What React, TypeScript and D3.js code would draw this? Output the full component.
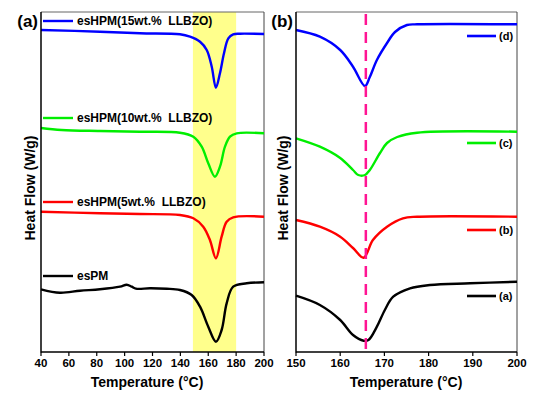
import React from "react";
import * as d3 from "d3";

// ---------- Panel (a) data: temperature (°C) vs heat flow (arbitrary offset units) ----------
const aTemps15 = [40, 82.3, 111, 139.7, 146.9, 154.1, 158.9, 162.5, 165.5, 168.4, 171.3, 174.4, 177.9, 182.8, 200];
const aVals15 = [322, 320.3, 318.7, 317.7, 315.3, 310.3, 302, 285.3, 264.3, 278.7, 298.7, 313.7, 317.7, 318.3, 318];

const aTemps10 = [40, 54.8, 82.3, 111, 139.7, 149.3, 155.3, 160, 164.8, 168.4, 172, 175.6, 180.4, 200];
const aVals10 = [224, 222, 221, 220.3, 219.3, 215.3, 205.3, 188.7, 175.3, 185.3, 205.3, 215.3, 218.7, 218.7];

const aTemps5 = [40, 82.3, 111, 139.7, 149.3, 156.4, 161.2, 165.5, 169.6, 173.2, 177.9, 200];
const aVals5 = [140.3, 138.7, 138, 137, 133.7, 125.3, 112, 93.7, 115.3, 130.3, 134.7, 135.3];

const aTempsPM = [40, 53.6, 68, 82.3, 96.7, 101.5, 105.1, 108.1, 118.2, 130.2, 139.7, 148.1, 154.1, 160, 165.5, 169.6, 173.2, 177.9, 187.6, 200];
const aValsPM = [62.7, 59.3, 61.3, 62.7, 65.3, 67.3, 65.3, 63.3, 63.7, 63.3, 62, 57, 45.3, 25.3, 10.3, 22, 48.7, 65.3, 68.7, 69.7];

// ---------- Panel (b) data ----------
const bTempsD = [150, 155.4, 160, 162.9, 165.6, 166.7, 168.3, 170.6, 172.4, 175.1, 177.4, 200];
const bValsD = [322, 315.3, 302, 285.3, 266, 275, 292, 309, 320, 327, 327.7, 327.7];

const bTempsC = [150, 155.4, 160, 162.9, 164.1, 165.6, 166.7, 169, 170.6, 172.9, 177.4, 200];
const bValsC = [213.7, 205.3, 194, 182, 177, 177, 182, 199, 209, 215, 219.3, 220.3];

const bTempsB = [150, 155.4, 160, 162.9, 165.3, 167.4, 170.6, 174.2, 177.4, 200];
const bValsB = [132, 125.3, 115.3, 104, 94.3, 112, 125.3, 133.7, 135.3, 135.3];

const bTempsA = [150, 155.4, 160, 162.9, 165.3, 166.4, 168.3, 170.1, 172, 175.8, 180.3, 189.4, 200];
const bValsA = [56.3, 47, 32, 17, 11.3, 12, 25.3, 42, 55.3, 63.7, 67, 68.7, 70.3];

const aLegend = ["esHPM(15wt.%  LLBZO)", "esHPM(10wt.%  LLBZO)", "esHPM(5wt.%  LLBZO)", "esPM"];
const bLegend = ["(d)", "(c)", "(b)", "(a)"];
const colors = ["#0000ff", "#00ee00", "#ff0000", "#000000"];

const aTicks = [40, 60, 80, 100, 120, 140, 160, 180, 200];
const bTicks = [150, 160, 170, 180, 190, 200];
const bandRange = [149, 180];
const peakTemp = 165.8;

const FONT = "'Liberation Sans', Arial, sans-serif";

type Series = { t: number[]; v: number[] };

function Panel(props: {
  left: number; right: number; top: number; bottom: number;
  domain: [number, number]; ticks: number[]; series: Series[];
  label: string; titleX: number; ylabelX: number;
  children?: (x: d3.ScaleLinear<number, number>, y: d3.ScaleLinear<number, number>) => React.ReactNode;
  legend: (x: d3.ScaleLinear<number, number>, y: d3.ScaleLinear<number, number>) => React.ReactNode;
  under?: (x: d3.ScaleLinear<number, number>, y: d3.ScaleLinear<number, number>) => React.ReactNode;
}) {
  const { left, right, top, bottom, domain, ticks, series } = props;
  const x = d3.scaleLinear().domain(domain).range([left, right]);
  const y = d3.scaleLinear().domain([0, 340]).range([bottom, top]);
  const line = (s: Series) =>
    d3.line<number>().x((_, i) => x(s.t[i])).y((d) => y(d)).curve(d3.curveCatmullRom.alpha(0.5))(s.v) || "";
  return (
    <g>
      {props.under && props.under(x, y)}
      <line x1={left} x2={right} y1={top} y2={top} stroke="#666" strokeWidth={1} />
      <line x1={right} x2={right} y1={top} y2={bottom} stroke="#444" strokeWidth={1} />
      {series.map((s, i) => (
        <path key={i} d={line(s)} fill="none" stroke={colors[i]} strokeWidth={2.4} strokeLinejoin="round" />
      ))}
      {props.children && props.children(x, y)}
      {props.legend(x, y)}
      <line x1={left} x2={left} y1={top} y2={bottom + 0.5} stroke="#000" strokeWidth={1.5} />
      <line x1={left} x2={right} y1={bottom} y2={bottom} stroke="#000" strokeWidth={1.5} />
      {ticks.map((t) => (
        <g key={t}>
          <line x1={x(t)} x2={x(t)} y1={bottom} y2={bottom + 4} stroke="#000" strokeWidth={1.2} />
          <text x={x(t)} y={367} textAnchor="middle" fontSize={11.5} fontWeight="bold" fontFamily={FONT}>{t}</text>
        </g>
      ))}
      <text x={props.titleX} y={387} textAnchor="middle" fontSize={14} fontWeight="bold" fontFamily={FONT}>Temperature (°C)</text>
      <text transform={`translate(${props.ylabelX},188) rotate(-90)`} textAnchor="middle" fontSize={14} fontWeight="bold" fontFamily={FONT}>Heat Flow (W/g)</text>
      <text x={left - 3} y={27} textAnchor="end" fontSize={17} fontWeight="bold" fontFamily={FONT}>{props.label}</text>
    </g>
  );
}

export default function App() {
  const aSeries: Series[] = [
    { t: aTemps15, v: aVals15 },
    { t: aTemps10, v: aVals10 },
    { t: aTemps5, v: aVals5 },
    { t: aTempsPM, v: aValsPM },
  ];
  const bSeries: Series[] = [
    { t: bTempsD, v: bValsD },
    { t: bTempsC, v: bValsC },
    { t: bTempsB, v: bValsB },
    { t: bTempsA, v: bValsA },
  ];
  const aLegendY = [21, 118, 202, 276];
  const bLegendY = [36, 143, 230, 296];
  return (
    <svg width={536} height={393} style={{ position: "absolute", left: 0, top: 0 }}>
      <rect width={536} height={393} fill="#fff" />
      <Panel
        left={41} right={264} top={12} bottom={352}
        domain={[40, 200]} ticks={aTicks} series={aSeries}
        label="(a)" titleX={147} ylabelX={35}
        under={(x) => (
          <rect x={x(bandRange[0])} y={12} width={x(bandRange[1]) - x(bandRange[0])} height={340} fill="#ffff80" opacity={0.9} />
        )}
        legend={() => (
          <g>
            {aLegend.map((l, i) => (
              <g key={l}>
                <line x1={43} x2={73} y1={aLegendY[i]} y2={aLegendY[i]} stroke={colors[i]} strokeWidth={2.4} />
                <text x={77} y={aLegendY[i] + 4} fontSize={12} fontWeight="bold" fontFamily={FONT} style={{ whiteSpace: "pre" }}>{l}</text>
              </g>
            ))}
          </g>
        )}
      />
      <Panel
        left={296} right={517} top={12} bottom={352}
        domain={[150, 200]} ticks={bTicks} series={bSeries}
        label="(b)" titleX={406} ylabelX={288}
        legend={() => (
          <g>
            {bLegend.map((l, i) => (
              <g key={l}>
                <line x1={467} x2={496} y1={bLegendY[i]} y2={bLegendY[i]} stroke={colors[i]} strokeWidth={2.6} />
                <text x={499} y={bLegendY[i] + 4} fontSize={11} fontWeight="bold" fontFamily={FONT}>{l}</text>
              </g>
            ))}
          </g>
        )}
      >
        {(x) => (
          <line x1={x(peakTemp)} x2={x(peakTemp)} y1={14} y2={352} stroke="#ff1493" strokeWidth={2.5} strokeDasharray="11,7" />
        )}
      </Panel>
    </svg>
  );
}
